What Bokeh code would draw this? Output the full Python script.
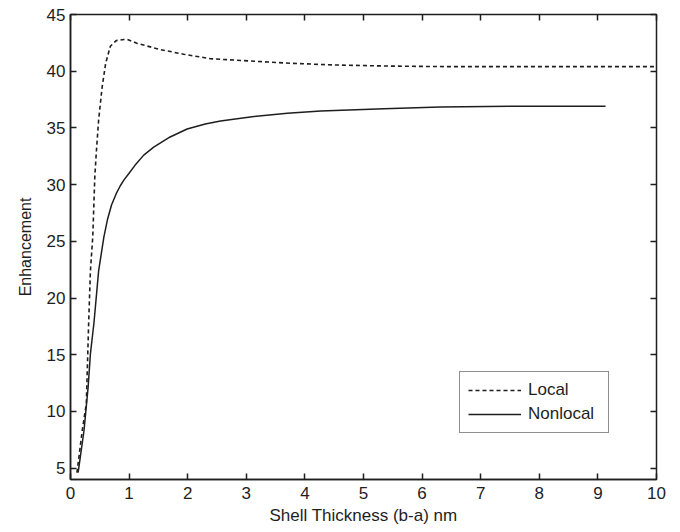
from bokeh.plotting import figure
from bokeh.models import LinearAxis, Legend, LegendItem, FixedTicker, Range1d, CustomJSTickFormatter
from bokeh.embed import file_html
from bokeh.resources import INLINE

local_x = [0.11, 0.2, 0.27, 0.31, 0.34, 0.38, 0.415, 0.44, 0.48, 0.54, 0.6, 0.68, 0.78, 0.91, 0.97,
           1.14, 1.54, 1.93, 2.39, 3.07, 3.75, 4.5, 5.46, 6.5, 8.0, 10.0]
local_y = [4.6, 8.3, 10.7, 17.8, 22.4, 25.4, 30.7, 32.8, 35.7, 38.6, 40.7, 42.2, 42.7, 42.8, 42.8,
           42.45, 41.9, 41.5, 41.1, 40.9, 40.7, 40.55, 40.45, 40.4, 40.4, 40.4]

nonlocal_x = [0.13, 0.23, 0.3, 0.34, 0.4, 0.48, 0.57, 0.63, 0.7, 0.78, 0.85, 0.91, 1.0, 1.1, 1.25,
              1.42, 1.7, 1.99, 2.3, 2.56, 3.13, 3.7, 4.27, 5.35, 6.31, 7.5, 9.13]
nonlocal_y = [4.6, 8.3, 12.1, 15.1, 17.8, 22.4, 25.4, 26.9, 28.2, 29.2, 29.9, 30.4, 31.0, 31.7, 32.6,
              33.3, 34.2, 34.9, 35.35, 35.6, 36.0, 36.3, 36.5, 36.7, 36.85, 36.9, 36.9]

x_ticks = [0, 1, 2, 3, 4, 5, 6, 7, 8, 9, 10]
y_ticks = [5, 10, 15, 20, 25, 30, 35, 40, 45]

FONT = "Liberation Sans"
INK = "#1e1e1e"

p = figure(width=680, height=532, output_backend="svg", toolbar_location=None,
           x_range=Range1d(0, 10), y_range=Range1d(4, 45),
           min_border_left=70, min_border_right=24, min_border_top=14, min_border_bottom=53,
           x_axis_label="Shell Thickness (b-a) nm", y_axis_label="Enhancement")
p.grid.visible = False
p.outline_line_color = INK
p.outline_line_width = 1.5
p.background_fill_color = "white"
p.border_fill_color = "white"

for ax in p.xaxis + p.yaxis:
    ax.major_tick_in = 6
    ax.major_tick_out = 0
    ax.minor_tick_in = 0
    ax.minor_tick_out = 0
    ax.axis_line_color = INK
    ax.axis_line_width = 1.5
    ax.major_tick_line_color = INK
    ax.major_tick_line_width = 1.5
    ax.major_label_text_font = FONT
    ax.major_label_text_font_size = "17px"
    ax.major_label_text_color = INK
    ax.axis_label_text_font = FONT
    ax.axis_label_text_font_size = "17px"
    ax.axis_label_text_font_style = "normal"
    ax.axis_label_text_color = INK

p.xaxis.ticker = FixedTicker(ticks=x_ticks)
p.yaxis.ticker = FixedTicker(ticks=y_ticks)
p.xaxis.major_label_standoff = 7
p.xaxis.axis_label_standoff = 4
p.yaxis.major_label_standoff = 5
p.yaxis.axis_label_standoff = 10
p.yaxis.axis_label_text_font_size = "16px"

blank = CustomJSTickFormatter(code="return ''")
top = LinearAxis(ticker=FixedTicker(ticks=x_ticks), formatter=blank,
                 major_tick_in=6, major_tick_out=0, minor_tick_in=0, minor_tick_out=0,
                 axis_line_color=INK, major_tick_line_color=INK, major_tick_line_width=1.5)
right = LinearAxis(ticker=FixedTicker(ticks=y_ticks), formatter=blank,
                   major_tick_in=6, major_tick_out=0, minor_tick_in=0, minor_tick_out=0,
                   axis_line_color=INK, major_tick_line_color=INK, major_tick_line_width=1.5)
p.add_layout(top, "above")
p.add_layout(right, "right")

r_local = p.line(local_x, local_y, line_color=INK, line_width=1.6, line_dash="4 3")
r_nonlocal = p.line(nonlocal_x, nonlocal_y, line_color=INK, line_width=1.5)

legend = Legend(items=[LegendItem(label="Local", renderers=[r_local]),
                       LegendItem(label="Nonlocal", renderers=[r_nonlocal])],
                location=(389, 46), orientation="vertical",
                border_line_color=INK, border_line_width=1.2,
                background_fill_color="white", background_fill_alpha=1.0,
                label_text_font=FONT, label_text_font_size="17px", label_text_color=INK,
                glyph_width=53, glyph_height=18, label_standoff=7, label_height=18,
                label_width=72, padding=8, spacing=4, margin=0)
p.add_layout(legend, "center")

open("out.html", "w").write(file_html(p, INLINE))
